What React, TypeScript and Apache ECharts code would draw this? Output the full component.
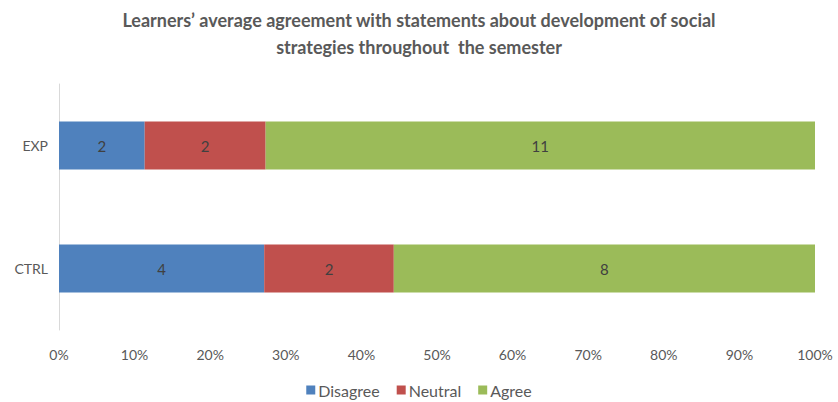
import React, { useEffect, useRef } from "react";
import * as echarts from "echarts";

const categories = ["EXP", "CTRL"];
const seriesNames = ["Disagree", "Neutral", "Agree"];
const disagree = [1.7, 3.8];
const neutral = [2.4, 2.4];
const agree = [10.9, 7.8];
const colors = ["#4F81BD", "#C0504D", "#9BBB59"];
const xTicks = [0, 10, 20, 30, 40, 50, 60, 70, 80, 90, 100];

const FONT = 'Lato, "Open Sans", sans-serif';

export default function App() {
  const ref = useRef<HTMLDivElement>(null);
  useEffect(() => {
    if (!ref.current) return;
    const chart = echarts.init(ref.current, undefined, { renderer: "svg" });
    const raw = [disagree, neutral, agree];
    const totals = categories.map((_, i) => raw.reduce((s, arr) => s + arr[i], 0));
    chart.setOption({
      animation: false,
      title: {
        text: "Learners’ average agreement with statements about development of social\nstrategies throughout  the semester",
        left: "center",
        top: 1,
        textStyle: {
          fontFamily: FONT,
          fontSize: 18,
          fontWeight: "bold",
          color: "#595959",
          lineHeight: 27,
        },
      },
      legend: {
        bottom: -1,
        left: "center",
        itemWidth: 9,
        itemHeight: 9,
        itemGap: 17,
        icon: "rect",
        textStyle: { fontFamily: FONT, fontSize: 16, color: "#595959", padding: [0, 0, 0, -2] },
        data: seriesNames,
      },
      grid: { left: 59, right: 23, top: 84, bottom: 72, containLabel: false },
      xAxis: {
        type: "value",
        min: 0,
        max: 100,
        interval: 10,
        axisLine: { show: false },
        axisTick: { show: false },
        splitLine: { show: false },
        axisLabel: {
          margin: 17,
          fontFamily: FONT,
          fontSize: 14,
          color: "#595959",
          formatter: (v: number) => (xTicks.includes(v) ? v + "%" : ""),
        },
      },
      yAxis: {
        type: "category",
        data: categories,
        inverse: true,
        axisLine: { show: true, lineStyle: { color: "#D9D9D9", width: 1 } },
        axisTick: { show: false },
        axisLabel: { margin: 11, fontFamily: FONT, fontSize: 14, color: "#595959" },
      },
      series: raw.map((arr, si) => ({
        name: seriesNames[si],
        type: "bar",
        stack: "total",
        barWidth: 48,
        itemStyle: { color: colors[si] },
        label: {
          show: true,
          position: "inside",
          fontFamily: FONT,
          fontSize: 15,
          color: "#404040",
          formatter: (p: any) => String(Math.round(arr[p.dataIndex])),
        },
        data: arr.map((v, i) => (v / totals[i]) * 100),
      })),
    });
    return () => chart.dispose();
  }, []);
  return (
    <div
      ref={ref}
      style={{ position: "absolute", left: 0, top: 0, width: 838, height: 402, background: "#fff" }}
    />
  );
}
